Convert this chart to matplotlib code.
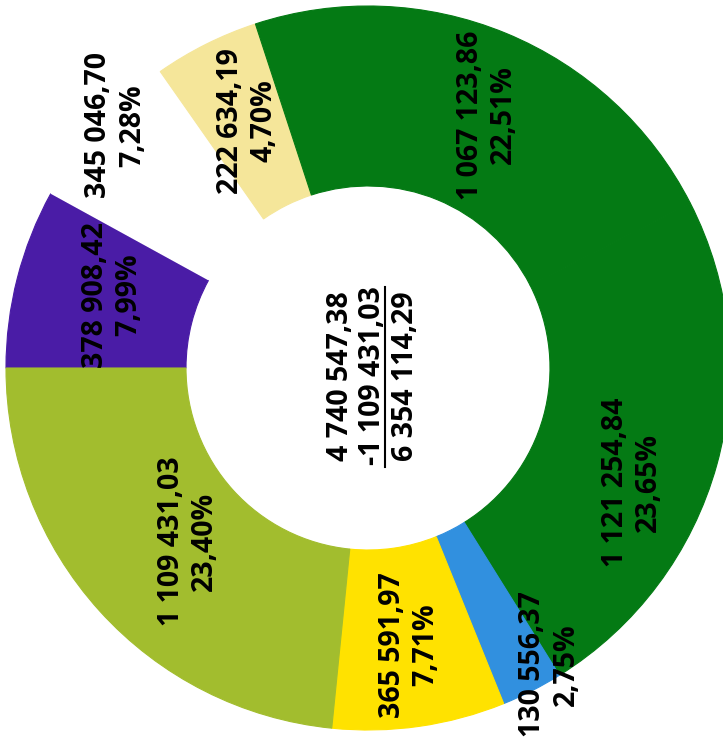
import numpy as np
import matplotlib
matplotlib.use("Agg")
import matplotlib.pyplot as plt

# slices, clockwise starting at 9 o'clock (picture is scanned sideways)
values = [378908.42, 345046.70, 222634.19, 1067123.86, 1121254.84, 130556.37, 365591.97, 1109431.03]
colors = ["#4a1ca6", "#ffffff", "#f5e69a", "#047a14", "#047a14", "#3190df", "#ffe200", "#a2bd2e"]
center_lines = ["4 740 547,38", "-1 109 431,03", "6 354 114,29"]

# label placement: fraction of radius and angle shift from the wedge middle
label_r = [0.735, 0.967, 0.76, 0.773, 0.795, 0.96, 0.773, 0.69]
label_shift = [-1.6, -2.0, -0.6, -2.8, -8.0, 4.5, 0.4, 1.8]


def fmt(v):
    return f"{v:,.2f}".replace(",", " ").replace(".", ",")


total = sum(values)
plt.rcParams["font.family"] = ["Open Sans", "DejaVu Sans"]

fig = plt.figure(figsize=(7.23, 7.51), dpi=100)
ax = fig.add_axes([0, 0, 1, 1])

cx, cy, R = 368, 383, 362
wedges, _ = ax.pie(values, colors=colors, startangle=180, counterclock=False,
                   radius=R, center=(cx, cy),
                   wedgeprops=dict(width=180, linewidth=0))
# hide the seam between the neighbouring slices
for w, c in zip(wedges, colors):
    if c != "#ffffff":
        w.set_edgecolor(c)
        w.set_linewidth(0.8)

for w, v, r, s in zip(wedges, values, label_r, label_shift):
    mid = np.deg2rad((w.theta1 + w.theta2) / 2 + s)
    x = cx + r * R * np.cos(mid)
    y = cy + r * R * np.sin(mid)
    pct = f"{v / total * 100:.2f}".replace(".", ",") + "%"
    ax.text(x, y, fmt(v) + "\n" + pct, rotation=90, ha="center", va="center",
            multialignment="center", fontsize=20.5, fontweight="bold",
            color="black", linespacing=1.2)

tx, ty = 373, cy - 8
ax.text(tx, ty, "\n".join(center_lines), rotation=90, ha="center", va="center",
        multialignment="center", fontsize=20.5, fontweight="bold",
        color="black", linespacing=1.15)
# underline of the subtracted value
ax.plot([385, 385], [751 - 467, 751 - 287], color="black", lw=1.5)

ax.set_xlim(0, 723)
ax.set_ylim(0, 751)
ax.set_aspect("equal")
ax.axis("off")

fig.savefig("out.png", dpi=100, facecolor="white")
